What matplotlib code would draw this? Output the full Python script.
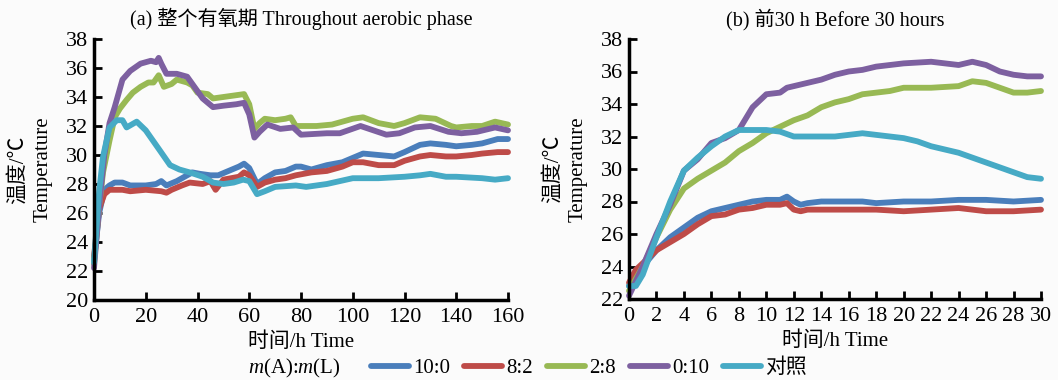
import numpy as np
import matplotlib
matplotlib.use("Agg")
import matplotlib.pyplot as plt

plt.rcParams['font.family'] = ['Liberation Serif', 'Noto Sans CJK SC', 'DejaVu Sans']
plt.rcParams['mathtext.fontset'] = 'custom'
plt.rcParams['mathtext.it'] = 'Liberation Serif:italic'
plt.rcParams['mathtext.rm'] = 'Liberation Serif'

# series labels and colours
labels = ['10:0', '8:2', '2:8', '0:10', '对照']
colors = ['#4a7ebb', '#be4b48', '#98b954', '#7d60a0', '#46aac5']

# (a) whole aerobic phase, 0-160 h
t_blue_a = [0, 2, 4, 6, 8, 11, 14, 20, 24, 26, 28, 32, 38, 41, 45, 48, 52, 56, 58, 60, 63, 66, 70, 74, 78, 80, 84, 90, 96, 100, 104, 110, 116, 120, 126, 130, 136, 140, 146, 150, 156, 160]
T_blue_a = [22.8, 26.0, 27.6, 27.9, 28.1, 28.1, 27.9, 27.9, 28.0, 28.2, 27.9, 28.2, 28.8, 28.7, 28.6, 28.6, 28.9, 29.2, 29.4, 29.1, 28.0, 28.4, 28.8, 28.9, 29.2, 29.2, 29.0, 29.3, 29.5, 29.8, 30.1, 30.0, 29.9, 30.2, 30.7, 30.8, 30.7, 30.6, 30.7, 30.8, 31.1, 31.1]

t_red_a = [0, 2, 4, 6, 8, 11, 14, 20, 26, 28, 30, 34, 37, 42, 45, 47, 50, 56, 58, 60, 63, 66, 70, 74, 78, 84, 90, 96, 100, 104, 110, 116, 120, 126, 130, 136, 140, 146, 150, 156, 160]
T_red_a = [23.0, 26.3, 27.3, 27.6, 27.6, 27.6, 27.5, 27.6, 27.5, 27.4, 27.6, 27.9, 28.1, 28.0, 28.2, 27.6, 28.3, 28.5, 28.8, 28.6, 27.8, 28.1, 28.3, 28.4, 28.6, 28.8, 28.9, 29.2, 29.5, 29.5, 29.3, 29.3, 29.6, 29.9, 30.0, 29.9, 29.9, 30.0, 30.1, 30.2, 30.2]

t_green_a = [0, 2, 3.5, 6, 8, 10, 12.6, 15, 18, 21, 23, 25, 27, 30, 32, 36, 38, 40, 44, 46, 50, 54, 58, 60, 62, 64, 66, 70, 74, 76, 78, 82, 86, 92, 100, 104, 110, 116, 120, 126, 132, 138, 140, 146, 150, 155, 160]
T_green_a = [22.5, 26.5, 28.8, 31.0, 32.6, 33.2, 33.8, 34.3, 34.7, 35.0, 35.0, 35.5, 34.7, 34.9, 35.2, 35.0, 34.8, 34.3, 34.2, 33.9, 34.0, 34.1, 34.2, 33.5, 31.8, 32.2, 32.5, 32.4, 32.5, 32.6, 32.0, 32.0, 32.0, 32.1, 32.5, 32.6, 32.2, 32.0, 32.2, 32.6, 32.5, 32.0, 31.9, 32.0, 32.0, 32.3, 32.1]

t_purple_a = [0, 2, 4, 6, 8, 11, 14, 18, 22, 24, 25, 26, 28, 32, 36, 40, 42, 46, 50, 55, 58, 60, 62, 64, 67, 72, 77, 80, 90, 95, 103, 108, 113, 118, 124, 130, 137, 142, 148, 155, 160]
T_purple_a = [22.2, 26.5, 30.0, 32.2, 33.3, 35.2, 35.8, 36.3, 36.5, 36.4, 36.7, 36.3, 35.6, 35.6, 35.4, 34.4, 33.9, 33.3, 33.4, 33.5, 33.6, 32.8, 31.2, 31.6, 32.1, 31.8, 31.9, 31.4, 31.5, 31.5, 32.0, 31.7, 31.4, 31.5, 31.9, 32.0, 31.6, 31.5, 31.6, 31.9, 31.7]

t_cyan_a = [0, 2, 3.5, 6, 8.8, 11, 12.6, 16.5, 20, 25.5, 29.4, 33, 37, 42, 46, 50, 54, 57.6, 60, 63, 66, 70, 78, 82, 86, 90, 100, 110, 120, 126, 130, 136, 140, 150, 155, 160]
T_cyan_a = [22.6, 27.5, 29.9, 31.9, 32.4, 32.4, 31.9, 32.3, 31.7, 30.3, 29.3, 29.0, 28.8, 28.5, 28.1, 28.0, 28.1, 28.3, 28.2, 27.3, 27.5, 27.8, 27.9, 27.8, 27.9, 28.0, 28.4, 28.4, 28.5, 28.6, 28.7, 28.5, 28.5, 28.4, 28.3, 28.4]

# (b) first 30 h
t_blue_b = [0, 1, 2, 3, 4, 5, 6, 7, 8, 9, 10, 11, 11.5, 12, 12.5, 13, 14, 16, 17, 18, 20, 22, 24, 26, 28, 30]
T_blue_b = [22.8, 24.0, 25.0, 25.8, 26.4, 27.0, 27.4, 27.6, 27.8, 28.0, 28.1, 28.1, 28.3, 28.0, 27.8, 27.9, 28.0, 28.0, 28.0, 27.9, 28.0, 28.0, 28.1, 28.1, 28.0, 28.1]

t_red_b = [0, 0.5, 1, 2, 3, 4, 5, 6, 7, 8, 9, 10, 11, 11.5, 12, 12.5, 13, 14, 16, 18, 20, 22, 24, 25, 26, 28, 30]
T_red_b = [23.0, 23.8, 24.2, 25.0, 25.5, 26.0, 26.6, 27.1, 27.2, 27.5, 27.6, 27.8, 27.8, 27.9, 27.5, 27.4, 27.5, 27.5, 27.5, 27.5, 27.4, 27.5, 27.6, 27.5, 27.4, 27.4, 27.5]

t_green_b = [0, 1, 2, 3, 4, 5, 6, 7, 8, 9, 10, 11, 12, 13, 14, 15, 16, 17, 18, 19, 20, 22, 24, 25, 26, 27, 28, 29, 30]
T_green_b = [22.5, 24.0, 25.8, 27.5, 28.8, 29.4, 29.9, 30.4, 31.1, 31.6, 32.2, 32.6, 33.0, 33.3, 33.8, 34.1, 34.3, 34.6, 34.7, 34.8, 35.0, 35.0, 35.1, 35.4, 35.3, 35.0, 34.7, 34.7, 34.8]

t_purple_b = [0, 1, 2, 3, 4, 5, 6, 7, 8, 9, 10, 11, 11.5, 12, 13, 14, 15, 16, 17, 18, 19, 20, 22, 23, 24, 25, 26, 27, 28, 29, 30]
T_purple_b = [22.2, 24.0, 26.0, 27.8, 29.9, 30.6, 31.6, 31.9, 32.4, 33.8, 34.6, 34.7, 35.0, 35.1, 35.3, 35.5, 35.8, 36.0, 36.1, 36.3, 36.4, 36.5, 36.6, 36.5, 36.4, 36.6, 36.4, 36.0, 35.8, 35.7, 35.7]

t_cyan_b = [0, 0.5, 1, 2, 3, 4, 5, 6, 7, 8, 9, 10, 11, 12, 13, 14, 15, 16, 17, 18, 19, 20, 21, 22, 23, 24, 25, 26, 27, 28, 29, 30]
T_cyan_b = [22.8, 22.8, 23.5, 25.8, 28.0, 29.9, 30.7, 31.4, 32.0, 32.4, 32.4, 32.4, 32.3, 32.0, 32.0, 32.0, 32.0, 32.1, 32.2, 32.1, 32.0, 31.9, 31.7, 31.4, 31.2, 31.0, 30.7, 30.4, 30.1, 29.8, 29.5, 29.4]

series_a = [(t_blue_a, T_blue_a), (t_red_a, T_red_a), (t_green_a, T_green_a), (t_purple_a, T_purple_a), (t_cyan_a, T_cyan_a)]
series_b = [(t_blue_b, T_blue_b), (t_red_b, T_red_b), (t_green_b, T_green_b), (t_purple_b, T_purple_b), (t_cyan_b, T_cyan_b)]

fig = plt.figure(figsize=(10.58, 3.8), dpi=100, facecolor='#fbfbfb')
ax1 = fig.add_axes([94/1058, 1 - 300/380, 414/1058, 261/380])
ax2 = fig.add_axes([629/1058, 1 - 299/380, 412/1058, 260/380])

lines = []
for ax, series in [(ax1, series_a), (ax2, series_b)]:
    ax.set_facecolor('#fbfbfb')
    for (t, T), c, lab in zip(series, colors, labels):
        l, = ax.plot(t, T, color=c, lw=4.2, label=lab, solid_capstyle='round',
                     solid_joinstyle='round', clip_on=False)
        if ax is ax1:
            lines.append(l)
    for s in ['top', 'right']:
        ax.spines[s].set_visible(False)
    for s in ['left', 'bottom']:
        ax.spines[s].set_linewidth(2.5)
    ax.tick_params(direction='in', length=6, width=2, labelsize=16)
    ax.tick_params(axis='x', pad=6)
    ax.tick_params(axis='y', pad=4)

ax1.set_xlim(0, 160)
ax1.set_ylim(20, 38)
ax1.set_xticks(np.arange(0, 161, 20))
ax1.set_yticks(np.arange(20, 39, 2))
ax1.set_title('(a) 整个有氧期 Throughout aerobic phase', fontsize=14.5, pad=10)

ax2.set_xlim(0, 30)
ax2.set_ylim(22, 38)
ax2.set_xticks(np.arange(0, 31, 2))
ax2.set_yticks(np.arange(22, 39, 2))
ax2.set_title('(b) 前30 h Before 30 hours', fontsize=14.5, pad=10)

for ax in (ax1, ax2):
    ax.set_xlabel('时间/h Time', fontsize=15, labelpad=4)
    ax.set_ylabel('温度/℃\nTemperature', fontsize=15, labelpad=10, linespacing=1.35)

fig.text(248/1058, 1 - 368/380, r'$m$(A)$\colon$$m$(L)', fontsize=15, va='center', ha='left')
fig.legend(handles=lines, loc='center', bbox_to_anchor=(589/1058, 1 - 368/380), ncol=5,
           frameon=False, fontsize=15, handlelength=1.8, columnspacing=0.7, handletextpad=0.2,
           borderpad=0, borderaxespad=0)

fig.savefig('out.png', dpi=100, facecolor=fig.get_facecolor())
